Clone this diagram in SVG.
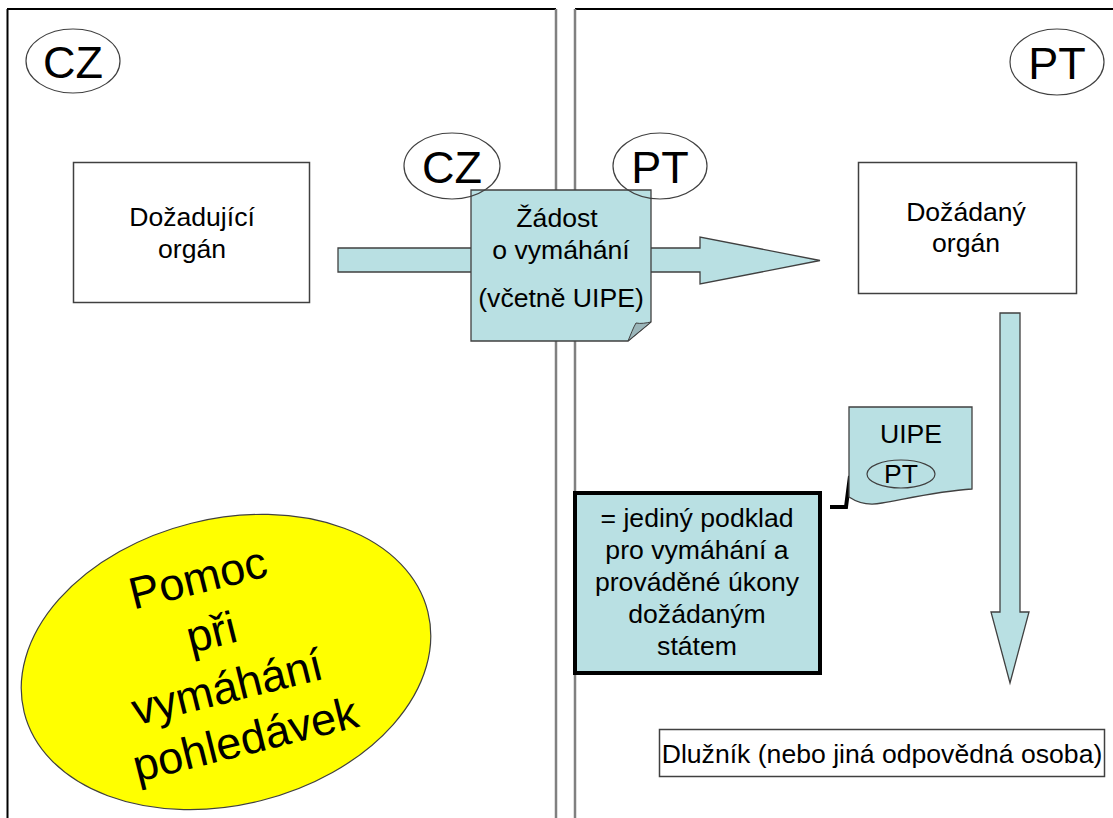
<svg xmlns="http://www.w3.org/2000/svg" width="1113" height="818" viewBox="0 0 1113 818">
  <style>
    text { font-family: "Liberation Sans", Arial, sans-serif; fill: #000; text-anchor: middle; }
    .t26 { font-size: 26.6px; }
    .t45 { font-size: 45px; }
    .box { fill: #ffffff; stroke: #404040; stroke-width: 1.5; }
    .blue { fill: #b9e0e3; stroke: #404040; stroke-width: 1.3; stroke-linejoin: miter; }
    .tag { fill: none; stroke: #404040; stroke-width: 1.2; }
    .panel-edge { stroke: #000; stroke-width: 2; }
    .panel-split { stroke: #808080; stroke-width: 2.5; }
  </style>

  <rect width="1113" height="818" fill="#ffffff"/>

  <!-- two country panels -->
  <g id="panels">
    <line class="panel-edge" x1="7" y1="9" x2="556" y2="9"/>
    <line class="panel-edge" x1="7.5" y1="9" x2="7.5" y2="818"/>
    <line class="panel-split" x1="556" y1="9" x2="556" y2="818"/>
    <line class="panel-edge" x1="575" y1="9" x2="1113" y2="9"/>
    <line class="panel-split" x1="575" y1="9" x2="575" y2="818"/>
  </g>

  <!-- country tags in the panel corners -->
  <g id="tag-cz">
    <ellipse class="tag" cx="73" cy="61" rx="47" ry="32"/>
    <text class="t45" x="73" y="78">CZ</text>
  </g>
  <g id="tag-pt">
    <ellipse class="tag" cx="1057" cy="62" rx="47" ry="33"/>
    <text class="t45" x="1057" y="79">PT</text>
  </g>

  <!-- connectors -->
  <g id="connectors">
    <path class="blue" d="M338,248 H700 V237 L820,260.5 L700,284 V272 H338 Z"/>
    <path class="blue" d="M1000,313 H1020 V612 H1029 L1010,683 L991,612 H1000 Z"/>
    <polyline points="830,507 846,507 850,476" fill="none" stroke="#000" stroke-width="4" stroke-linejoin="miter"/>
  </g>

  <g id="requesting-authority">
    <rect class="box" x="73.5" y="162.5" width="236" height="140"/>
    <text class="t26" x="192" y="226">Dožadující</text>
    <text class="t26" x="192" y="258">orgán</text>
  </g>

  <g id="requested-authority">
    <rect class="box" x="858.5" y="162.5" width="218" height="131"/>
    <text class="t26" x="966" y="221">Dožádaný</text>
    <text class="t26" x="966" y="252">orgán</text>
  </g>

  <!-- request document with folded corner -->
  <g id="request-document">
    <path class="blue" d="M471,190 H651 V322 L628,341 H471 Z"/>
    <path d="M651,322 L628,341 C631,334 633,328 636,323 C641,324 646,323 651,322 Z" fill="#9bb6ba" stroke="#404040" stroke-width="1"/>
    <text class="t26" x="557" y="227">Žádost</text>
    <text class="t26" x="561" y="259">o vymáhání</text>
    <text class="t26" x="561" y="307">(včetně UIPE)</text>
  </g>

  <g id="tag-cz-mid">
    <ellipse class="tag" cx="452" cy="166" rx="48" ry="33"/>
    <text class="t45" x="452" y="183">CZ</text>
  </g>
  <g id="tag-pt-mid">
    <ellipse class="tag" cx="660" cy="166" rx="47" ry="33"/>
    <text class="t45" x="660" y="183">PT</text>
  </g>

  <!-- uniform instrument document -->
  <g id="uipe-document">
    <path class="blue" d="M849,407 H972 V489 C940,491 910,498 882,503 C868,506 858,503 849,497 Z"/>
    <text class="t26" x="911" y="443">UIPE</text>
    <ellipse class="tag" cx="901" cy="474" rx="34" ry="14"/>
    <text class="t26" x="901" y="483">PT</text>
  </g>

  <g id="uipe-note">
    <rect x="575" y="493" width="245" height="180" fill="#b9e0e3" stroke="#000" stroke-width="4"/>
    <text class="t26" x="697" y="527">= jediný podklad</text>
    <text class="t26" x="697" y="559">pro vymáhání a</text>
    <text class="t26" x="697" y="591">prováděné úkony</text>
    <text class="t26" x="697" y="623">dožádaným</text>
    <text class="t26" x="697" y="655">státem</text>
  </g>

  <g id="debtor">
    <rect class="box" x="659.5" y="729.5" width="445" height="47"/>
    <text class="t26" x="882" y="763">Dlužník (nebo jiná odpovědná osoba)</text>
  </g>

  <g id="title-badge" transform="translate(226,662) rotate(-14)">
    <ellipse cx="0" cy="0" rx="208" ry="143" fill="#ffff00" stroke="#404040" stroke-width="1.2"/>
    <text class="t45" x="-7" y="-73">Pomoc</text>
    <text class="t45" x="-7" y="-17">při</text>
    <text class="t45" x="-5" y="40">vymáhání</text>
    <text class="t45" x="0" y="95">pohledávek</text>
  </g>
</svg>
